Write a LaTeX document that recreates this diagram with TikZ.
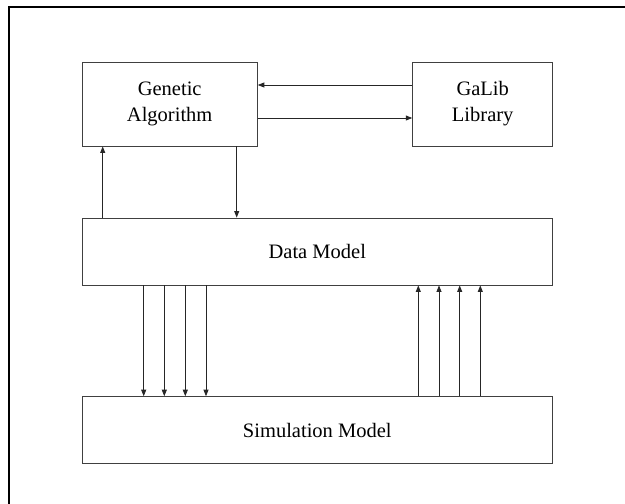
\documentclass[tikz,border=0pt]{standalone}
\usepackage{fontspec}
\setmainfont{Liberation Serif}
\usetikzlibrary{arrows.meta}
\begin{document}
\begin{tikzpicture}[x=1pt,y=-1pt,
  box/.style={draw=black!75,line width=0.9pt,rectangle,inner sep=0pt,align=center,
    font=\fontsize{20.5}{26}\selectfont},
  arr/.style={draw=black!85,line width=0.8pt,-{Triangle[length=6.5pt,width=5pt]}}]
\useasboundingbox (0,0) rectangle (625,504);
\fill[white] (0,0) rectangle (625,504);
\draw[line width=2pt] (8.5,504) -- (8.5,6.5) -- (625,6.5);
\node[box,minimum width=175.3pt,minimum height=84pt] (ga) at (169.7,104) {Genetic\\Algorithm};
\node[box,minimum width=140pt,minimum height=84pt] (galib) at (482.7,104) {GaLib\\Library};
\node[box,minimum width=470.7pt,minimum height=67pt] (data) at (317.3,251.5) {Data Model};
\node[box,minimum width=470.7pt,minimum height=66.7pt] (sim) at (317.3,430) {Simulation Model};
\coordinate (ya) at (0,85);
\coordinate (yb) at (0,118);
\coordinate (xa) at (102.7,0);
\coordinate (xb) at (236.7,0);
\coordinate (d1) at (143.7,0);
\coordinate (d2) at (164.3,0);
\coordinate (d3) at (185.3,0);
\coordinate (d4) at (206,0);
\coordinate (u1) at (418.3,0);
\coordinate (u2) at (439,0);
\coordinate (u3) at (459.7,0);
\coordinate (u4) at (480.3,0);
\draw[arr] (galib.west |- ya) -- (ga.east |- ya);
\draw[arr] (ga.east |- yb) -- (galib.west |- yb);
\draw[arr] (xa |- data.north) -- (xa |- ga.south);
\draw[arr] (xb |- ga.south) -- (xb |- data.north);
\foreach \c in {d1,d2,d3,d4} \draw[arr] (\c |- data.south) -- (\c |- sim.north);
\foreach \c in {u1,u2,u3,u4} \draw[arr] (\c |- sim.north) -- (\c |- data.south);
\end{tikzpicture}
\end{document}
